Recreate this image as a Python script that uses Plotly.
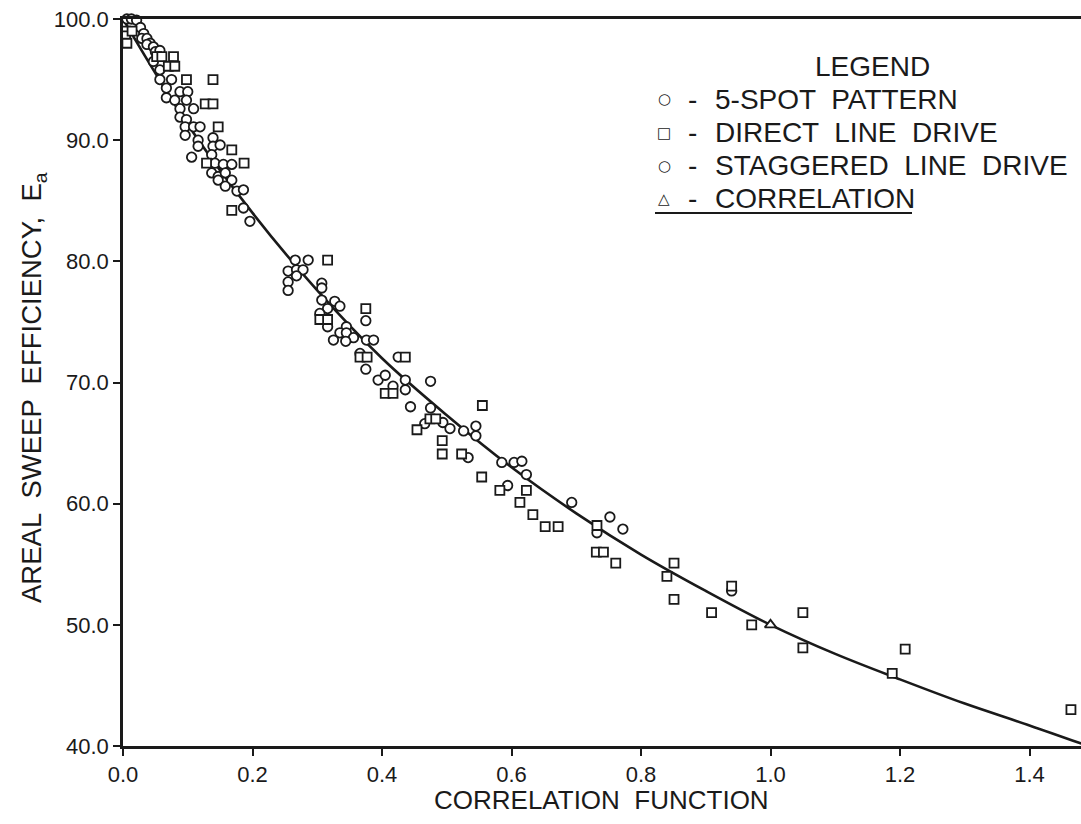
import plotly.graph_objects as go

# ---- data ----
circle_x = [0.006, 0.013, 0.021, 0.027, 0.032, 0.029, 0.037, 0.042, 0.037, 0.047, 0.050, 0.057,
            0.047, 0.057, 0.075, 0.057, 0.067, 0.088, 0.100, 0.067, 0.080, 0.098, 0.088, 0.109,
            0.088, 0.098, 0.096, 0.109, 0.119, 0.096, 0.116, 0.139, 0.116, 0.139, 0.150, 0.106,
            0.137, 0.142, 0.155, 0.168, 0.137, 0.147, 0.158, 0.147, 0.168, 0.158, 0.176, 0.186,
            0.186, 0.196,
            0.266, 0.286, 0.255, 0.268, 0.278, 0.268, 0.255, 0.255, 0.307, 0.307, 0.307, 0.327,
            0.335, 0.316, 0.304, 0.316, 0.375, 0.345, 0.335, 0.345, 0.356, 0.325, 0.344, 0.376,
            0.387, 0.366, 0.425, 0.375, 0.394, 0.405, 0.417, 0.436, 0.436, 0.475, 0.444, 0.475,
            0.466,
            0.494, 0.505, 0.526, 0.545, 0.545, 0.533, 0.585, 0.604, 0.616, 0.623, 0.594, 0.693,
            0.732, 0.752, 0.772, 0.940]
circle_y = [100.0, 100.0, 99.9, 99.3, 98.8, 98.4, 98.4, 98.0, 97.9, 97.7, 97.3, 97.4,
            96.5, 95.8, 95.0, 95.0, 94.3, 94.0, 94.0, 93.5, 93.3, 93.3, 92.6, 92.6,
            91.9, 91.7, 91.1, 91.1, 91.1, 90.4, 90.0, 90.2, 89.5, 89.5, 89.6, 88.6,
            88.8, 88.1, 88.0, 88.0, 87.3, 87.0, 87.3, 86.7, 86.7, 86.2, 85.8, 85.9,
            84.4, 83.3,
            80.1, 80.1, 79.2, 79.3, 79.3, 78.8, 78.3, 77.6, 78.2, 77.8, 76.8, 76.7,
            76.3, 76.1, 75.7, 74.6, 75.1, 74.6, 74.1, 74.1, 73.7, 73.5, 73.4, 73.5,
            73.5, 72.4, 72.1, 71.1, 70.2, 70.6, 69.7, 70.2, 69.4, 70.1, 68.0, 67.9,
            66.6,
            66.7, 66.2, 66.0, 66.4, 65.6, 63.8, 63.4, 63.4, 63.5, 62.4, 61.5, 60.1,
            57.6, 58.9, 57.9, 52.8]

square_x = [0.004, 0.004, 0.014, 0.006, 0.052, 0.060, 0.078, 0.070, 0.080, 0.098, 0.139, 0.127,
            0.139, 0.147, 0.168, 0.129, 0.187, 0.168,
            0.316, 0.375, 0.304, 0.316, 0.366, 0.377, 0.436, 0.405, 0.417, 0.454, 0.474, 0.483,
            0.555, 0.493, 0.493, 0.523, 0.554, 0.582, 0.623, 0.613, 0.633, 0.652, 0.672, 0.732,
            0.731, 0.742, 0.761, 0.851, 0.840,
            0.851, 0.940, 0.909, 0.971, 1.050, 1.050, 1.208, 1.188, 1.464]
square_y = [99.0, 98.6, 99.0, 98.0, 96.9, 96.9, 96.9, 96.1, 96.1, 95.0, 95.0, 93.0,
            93.0, 91.1, 89.2, 88.1, 88.1, 84.2,
            80.1, 76.1, 75.2, 75.2, 72.1, 72.1, 72.1, 69.1, 69.1, 66.1, 67.0, 67.0,
            68.1, 65.2, 64.1, 64.1, 62.2, 61.1, 61.1, 60.1, 59.1, 58.1, 58.1, 58.2,
            56.0, 56.0, 55.1, 55.1, 54.0,
            52.1, 53.2, 51.0, 50.0, 51.0, 48.1, 48.0, 46.0, 43.0]

triangle_x = [1.0]
triangle_y = [50.0]

curve_x = [0.0, 0.1, 0.2, 0.3, 0.4, 0.5, 0.6, 0.7, 0.8, 0.9, 1.0, 1.1, 1.2, 1.3, 1.4, 1.48]
curve_y = [100.0, 91.3, 84.0, 77.6, 72.0, 67.3, 63.0, 59.2, 55.8, 52.8, 50.0, 47.6, 45.5, 43.5, 41.7, 40.2]

x_ticks = [0.0, 0.2, 0.4, 0.6, 0.8, 1.0, 1.2, 1.4]
x_ticklabels = ["0.0", "0.2", "0.4", "0.6", "0.8", "1.0", "1.2", "1.4"]
y_ticks = [40, 50, 60, 70, 80, 90, 100]
y_ticklabels = ["40.0", "50.0", "60.0", "70.0", "80.0", "90.0", "100.0"]

legend_title = "LEGEND"
legend_labels = ["5-SPOT  PATTERN", "DIRECT  LINE  DRIVE", "STAGGERED  LINE  DRIVE", "CORRELATION"]
legend_symbols = ["○", "□", "○", "△"]

# ---- figure ----
W, H = 1081, 824
ML, MR, MT, MB = 123, 0, 19, 78
FONT = "Liberation Sans, Arial, Helvetica, sans-serif"
INK = "#1a1a1a"

fig = go.Figure()
fig.add_trace(go.Scatter(x=curve_x, y=curve_y, mode="lines",
                         line=dict(color=INK, width=2.6, shape="spline", smoothing=1.0),
                         cliponaxis=True, showlegend=False, hoverinfo="skip"))
fig.add_trace(go.Scatter(x=circle_x, y=circle_y, mode="markers", cliponaxis=False,
                         marker=dict(symbol="circle", size=9.5, color="white",
                                     line=dict(color=INK, width=1.8)),
                         showlegend=False))
fig.add_trace(go.Scatter(x=square_x, y=square_y, mode="markers", cliponaxis=False,
                         marker=dict(symbol="square", size=9, color="white",
                                     line=dict(color=INK, width=1.8)),
                         showlegend=False))
fig.add_trace(go.Scatter(x=triangle_x, y=triangle_y, mode="markers", cliponaxis=False,
                         marker=dict(symbol="triangle-up", size=10, color="white",
                                     line=dict(color=INK, width=1.8)),
                         showlegend=False))

pw = W - ML - MR
ph = H - MT - MB


def px(xp):
    return (xp - ML) / pw


def py(yp):
    return (H - MB - yp) / ph


LEG_SIZE = 28
ann = []
ann.append(dict(x=px(872), y=py(66), text=legend_title, showarrow=False,
                xanchor="center", yanchor="middle",
                font=dict(family=FONT, size=LEG_SIZE, color=INK)))
rows = [99, 133, 166, 199]
for lab, sym, ry in zip(legend_labels, legend_symbols, rows):
    ann.append(dict(x=px(664), y=py(ry), text=sym, showarrow=False,
                    xanchor="center", yanchor="middle",
                    font=dict(family="DejaVu Sans, sans-serif", size=15, color=INK)))
    ann.append(dict(x=px(692), y=py(ry), text="-", showarrow=False,
                    xanchor="center", yanchor="middle",
                    font=dict(family=FONT, size=LEG_SIZE, color=INK)))
    ann.append(dict(x=px(713), y=py(ry), text=lab, showarrow=False,
                    xanchor="left", yanchor="middle",
                    font=dict(family=FONT, size=LEG_SIZE, color=INK)))

ann.append(dict(x=px(33), y=py(388), text="AREAL  SWEEP  EFFICIENCY,  E<sub>a</sub>",
                showarrow=False, textangle=-90, xanchor="center", yanchor="middle",
                font=dict(family=FONT, size=27.5, color=INK)))
ann.append(dict(x=px(601), y=py(800), text="CORRELATION  FUNCTION",
                showarrow=False, xanchor="center", yanchor="middle",
                font=dict(family=FONT, size=26, color=INK)))
for a in ann:
    a["xref"] = "paper"
    a["yref"] = "paper"

shapes = [dict(type="line", xref="paper", yref="paper",
               x0=px(655), x1=px(912), y0=py(213), y1=py(213),
               line=dict(color=INK, width=2))]

fig.update_layout(
    width=W, height=H,
    margin=dict(l=ML, r=MR, t=MT, b=MB, pad=0),
    paper_bgcolor="white", plot_bgcolor="white",
    annotations=ann, shapes=shapes,
    font=dict(family=FONT, color=INK),
    xaxis=dict(range=[0, pw / 647.5], tickvals=x_ticks, ticktext=x_ticklabels,
               showgrid=False, zeroline=False, showline=True, linecolor=INK, linewidth=2.6,
               mirror=True, ticks="outside", ticklen=7, tickwidth=2, tickcolor=INK,
               tickfont=dict(family=FONT, size=22, color=INK)),
    yaxis=dict(range=[40, 100], tickvals=y_ticks, ticktext=y_ticklabels,
               showgrid=False, zeroline=False, showline=True, linecolor=INK, linewidth=2.6,
               ticks="outside", ticklen=7, tickwidth=2, tickcolor=INK,
               tickfont=dict(family=FONT, size=22, color=INK)),
)

fig.write_html("out.html")
